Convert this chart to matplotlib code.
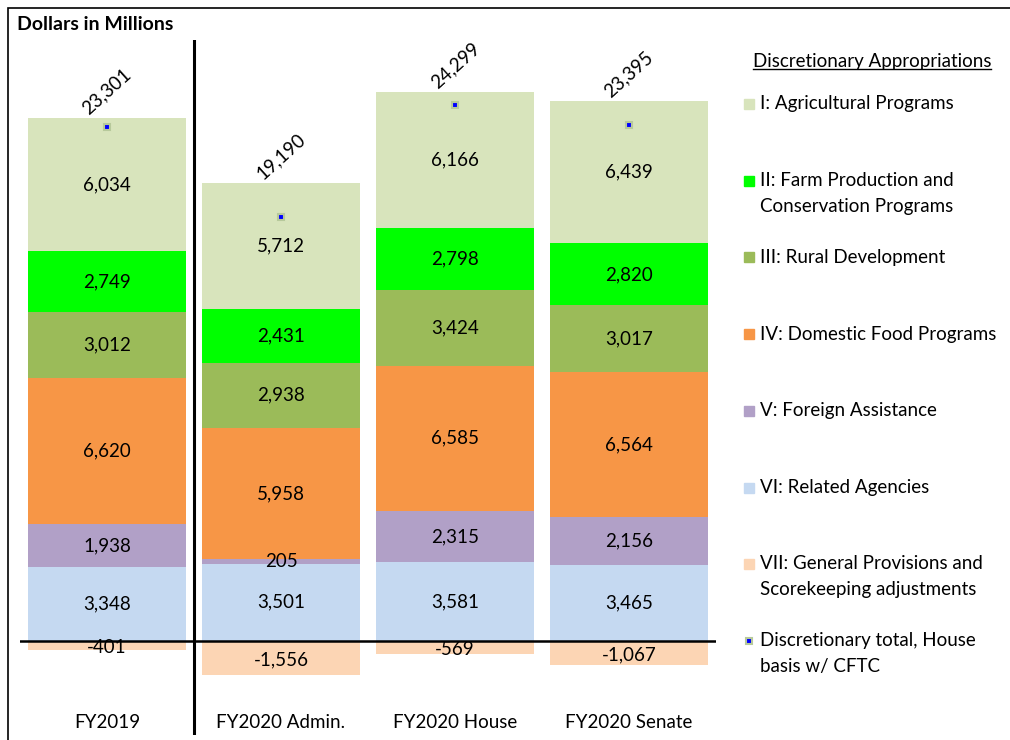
import matplotlib.pyplot as plt
from matplotlib.patches import Rectangle
from matplotlib.lines import Line2D
import numpy as np

plt.rcParams['font.family'] = ['Lato', 'DejaVu Sans']

categories = ['FY2019', 'FY2020 Admin.', 'FY2020 House', 'FY2020 Senate']
# stacked bottom to top: VI, V, IV, III, II, I ; VII below zero
ag_programs = [6034, 5712, 6166, 6439]
farm_prod = [2749, 2431, 2798, 2820]
rural_dev = [3012, 2938, 3424, 3017]
domestic_food = [6620, 5958, 6585, 6564]
foreign_assist = [1938, 205, 2315, 2156]
related_agencies = [3348, 3501, 3581, 3465]
general_prov = [-401, -1556, -569, -1067]
totals = [23301, 19190, 24299, 23395]

series = [
    (related_agencies, '#C5D9F1', 'VI: Related Agencies'),
    (foreign_assist, '#B1A0C7', 'V: Foreign Assistance'),
    (domestic_food, '#F79646', 'IV: Domestic Food Programs'),
    (rural_dev, '#9BBB59', 'III: Rural Development'),
    (farm_prod, '#00FF00', 'II: Farm Production and\nConservation Programs'),
    (ag_programs, '#D8E4BC', 'I: Agricultural Programs'),
]

fig = plt.figure(figsize=(10.1, 7.4), dpi=100)
ax = fig.add_axes([20/1010, 5/740, 696/1010, 695/740])
x = np.arange(len(categories))
w = 0.91
fs = 13.5

bottom = np.zeros(len(categories))
for vals, col, lab in series:
    vals = np.array(vals)
    ax.bar(x, vals, w, bottom=bottom, color=col, edgecolor='none', zorder=2)
    for xi, b, v in zip(x, bottom, vals):
        ax.text(xi, b + v / 2, f'{v:,}', ha='center', va='center', fontsize=fs, zorder=5)
    bottom += vals

neg = np.array(general_prov)
ax.bar(x, neg, w, color='#FCD5B4', edgecolor='none', zorder=2)
for xi, v in zip(x, neg):
    ax.text(xi, v / 2 - 80, f'{v:,}', ha='center', va='center', fontsize=fs, zorder=5)

ax.plot(x, totals, linestyle='none', marker='s', markersize=5, color='#0000FF',
        markeredgecolor='#B7C99B', markeredgewidth=1.5, zorder=6)
for xi, top, t in zip(x, bottom, totals):
    ax.text(xi, top + 50, f'{t:,}', ha='center', va='bottom', rotation=42, fontsize=fs, zorder=5)

for xi, c in zip(x, categories):
    ax.text(xi, -3715, c, ha='center', va='center', fontsize=fs)

ax.axhline(0, color='black', lw=1.8, zorder=4)
ax.axvline(0.5, color='black', lw=2.2, zorder=4)

ax.set_xlim(-0.5, 3.5)
ax.set_ylim(-4259, 27232)
ax.axis('off')

# frame (only top and left edges fall inside the picture) and title
fig.patches.append(Rectangle((8/1010, -0.05), 1.1, 1 - 8/740 + 0.05, transform=fig.transFigure,
                             fill=False, edgecolor='black', lw=1.2))
fig.text(17/1010, 1 - 25/740, 'Dollars in Millions', fontsize=14, fontweight='bold',
         va='center', ha='left')

# legend
t = fig.text(872/1010, 1 - 61/740, 'Discretionary Appropriations', fontsize=fs,
             ha='center', va='center')
fig.canvas.draw()
bb = t.get_window_extent().transformed(fig.transFigure.inverted())
fig.add_artist(Line2D([bb.x0, bb.x1], [bb.y0 + 0.001, bb.y0 + 0.001], transform=fig.transFigure,
                      color='black', lw=1))

leg_items = [(c, l) for _, c, l in series[::-1]] + [
    ('#FCD5B4', 'VII: General Provisions and\nScorekeeping adjustments')]
step = 76.7
for i, (col, lab) in enumerate(leg_items):
    y1 = 104 + i * step
    nl = lab.count('\n')
    fig.patches.append(Rectangle((744/1010, 1 - (y1 + 5) / 740), 10/1010, 10/740,
                                 transform=fig.transFigure, color=col))
    fig.text(760/1010, 1 - (y1 + nl * 12.5) / 740, lab, fontsize=fs, va='center', ha='left',
             linespacing=1.62)
y1 = 104 + 7 * step
fig.add_artist(Line2D([749/1010], [1 - y1 / 740], transform=fig.transFigure, marker='s', markersize=5,
                      color='#0000FF', markeredgecolor='#B7C99B', markeredgewidth=1.5))
fig.text(760/1010, 1 - (y1 + 12.5) / 740, 'Discretionary total, House\nbasis w/ CFTC', fontsize=fs,
         va='center', ha='left', linespacing=1.62)

plt.savefig('out.png', dpi=100)
